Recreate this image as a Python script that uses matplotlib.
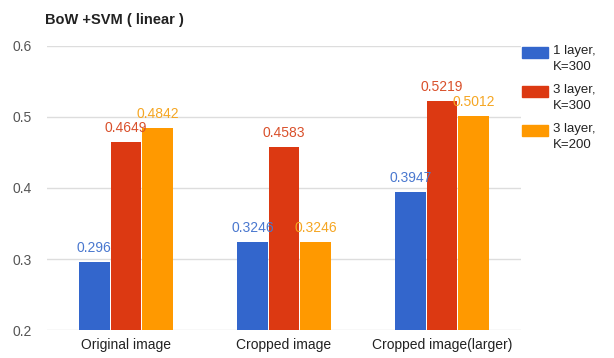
import matplotlib.pyplot as plt
from matplotlib.patches import Rectangle
import numpy as np

plt.rcParams['font.family'] = ['Liberation Sans', 'DejaVu Sans']

groups = ['Original image', 'Cropped image', 'Cropped image(larger)']
series = ['1 layer,\nK=300', '3 layer,\nK=300', '3 layer,\nK=200']
one_layer_300 = [0.296, 0.3246, 0.3947]
three_layer_300 = [0.4649, 0.4583, 0.5219]
three_layer_200 = [0.4842, 0.3246, 0.5012]
labels = [['0.296', '0.3246', '0.3947'],
          ['0.4649', '0.4583', '0.5219'],
          ['0.4842', '0.3246', '0.5012']]

colors = ['#3366cc', '#dc3912', '#ff9900']
text_colors = ['#4a78cf', '#d9502b', '#f5a623']

W, H = 614, 358
fig = plt.figure(figsize=(W / 100, H / 100), dpi=100)
ax = fig.add_axes([0.0765, 0.078, 0.772, 0.794])

x = np.arange(len(groups))
w = 0.2
for i, vals in enumerate([one_layer_300, three_layer_300, three_layer_200]):
    pos = x + (i - 1) * w
    ax.bar(pos, np.array(vals) - 0.2, w * 0.96, bottom=0.2, color=colors[i],
           label=series[i], zorder=3)
    for px, v, t in zip(pos, vals, labels[i]):
        ax.annotate(t, (px, v), xytext=(0, 5), textcoords='offset points',
                    ha='center', va='bottom', fontsize=10,
                    color=text_colors[i], zorder=4)

ax.set_xlim(-0.5, 2.5)
ax.set_ylim(0.2, 0.6)
ax.set_yticks([0.2, 0.3, 0.4, 0.5, 0.6])
ax.set_yticklabels(['0.2', '0.3', '0.4', '0.5', '0.6'])
ax.set_xticks(x)
ax.set_xticklabels(groups)
ax.grid(axis='y', color='#dddddd', linewidth=1, zorder=0)
for s in ax.spines.values():
    s.set_visible(False)
ax.tick_params(axis='both', length=0, labelsize=10)
ax.tick_params(axis='y', pad=11, colors='#555555')
ax.tick_params(axis='x', pad=6, colors='#222222')

fig.text(0.073, 0.925, 'BoW +SVM ( linear )', fontsize=10.5, fontweight='bold',
         ha='left', va='bottom', color='#222222')

# legend on the right: small swatch next to a two-line label
for i, name in enumerate(series):
    top = 47 + 39 * i
    fig.add_artist(Rectangle((522 / W, 1 - (top + 11) / H), 26 / W, 11 / H,
                             transform=fig.transFigure, color=colors[i]))
    fig.text(553 / W, 1 - (top - 2) / H, name, fontsize=9.5, ha='left',
             va='top', linespacing=1.45, color='#222222')

plt.savefig('out.png', dpi=100)
